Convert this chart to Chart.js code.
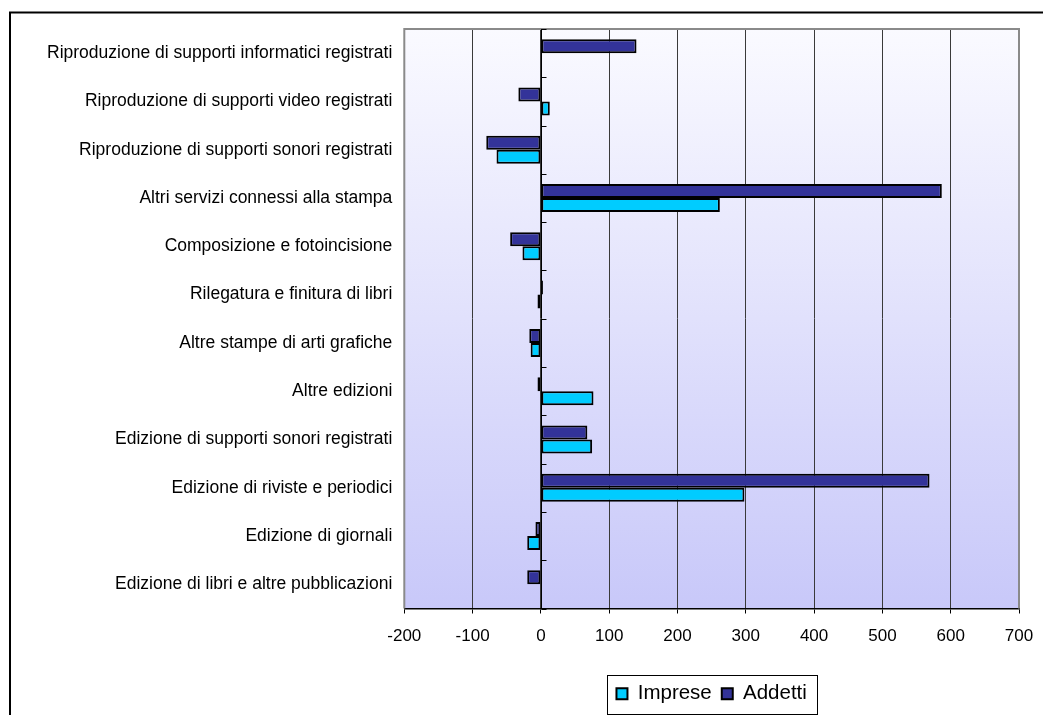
<!DOCTYPE html>
<html>
<head>
<meta charset="utf-8">
<script src="https://cdn.jsdelivr.net/npm/chart.js@4/dist/chart.umd.min.js"></script>
<style>
  html, body { margin: 0; padding: 0; background: #fff; }
  canvas { display: block; }
</style>
</head>
<body>
<canvas id="c" width="1043" height="715"></canvas>
<script>
// Categories, top to bottom
const categories = [
  "Riproduzione di supporti informatici registrati",
  "Riproduzione di supporti video registrati",
  "Riproduzione di supporti sonori registrati",
  "Altri servizi connessi alla stampa",
  "Composizione e fotoincisione",
  "Rilegatura e finitura di libri",
  "Altre stampe di arti grafiche",
  "Altre edizioni",
  "Edizione di supporti sonori registrati",
  "Edizione di riviste e periodici",
  "Edizione di giornali",
  "Edizione di libri e altre pubblicazioni"
];
const imprese = [0, 13, -65, 262, -27, -5, -15, 77, 75, 298, -20, 0];
const addetti = [140, -33, -80, 587, -45, 3, -17, -5, 68, 569, -8, -20];
const axisMin = -200;
const axisMax = 700;
const axisStep = 100;

const FONT = "'Liberation Sans', Arial, sans-serif";

// Plot background, outer frame, zero axis and legend box
const decor = {
  id: 'decor',
  beforeDraw(chart) {
    const {ctx, chartArea: a} = chart;
    ctx.save();
    ctx.fillStyle = '#fff';
    ctx.fillRect(0, 0, chart.width, chart.height);
    ctx.strokeStyle = '#000';
    ctx.lineWidth = 2;
    ctx.strokeRect(10, 12.5, chart.width + 20, chart.height + 20);
    const g = ctx.createLinearGradient(0, a.top, 0, a.bottom);
    g.addColorStop(0, '#fafaff');
    g.addColorStop(1, '#c8c8f9');
    ctx.fillStyle = g;
    ctx.fillRect(a.left, a.top, a.right - a.left, a.bottom - a.top);
    ctx.restore();
  },
  beforeDatasetsDraw(chart) {
    const {ctx, chartArea: a, scales: {x, y}} = chart;
    ctx.save();
    // plot frame
    ctx.strokeStyle = '#8a8a8a';
    ctx.lineWidth = 2;
    ctx.beginPath();
    ctx.moveTo(a.left, a.bottom);
    ctx.lineTo(a.left, a.top);
    ctx.lineTo(a.right, a.top);
    ctx.lineTo(a.right, a.bottom);
    ctx.stroke();
    // category axis crossing at zero, with tick marks between categories
    const x0 = Math.round(x.getPixelForValue(0)) + 0.5;
    ctx.strokeStyle = '#000';
    ctx.lineWidth = 1;
    ctx.beginPath();
    ctx.moveTo(x0, a.top);
    ctx.lineTo(x0, a.bottom);
    for (let i = 0; i <= categories.length; i++) {
      const yy = Math.round(y.getPixelForValue(i - 0.5)) + 0.5;
      ctx.moveTo(x0, yy);
      ctx.lineTo(x0 + 5, yy);
    }
    ctx.stroke();
    ctx.restore();
  },
  afterDraw(chart) {
    const lg = chart.legend;
    if (!lg || !lg.legendHitBoxes || !lg.legendHitBoxes.length) return;
    const hb = lg.legendHitBoxes;
    let l = Infinity, r = -Infinity, t = Infinity, b = -Infinity;
    hb.forEach(h => {
      l = Math.min(l, h.left); r = Math.max(r, h.left + h.width);
      t = Math.min(t, h.top); b = Math.max(b, h.top + h.height);
    });
    const ctx = chart.ctx;
    ctx.save();
    ctx.strokeStyle = '#000';
    ctx.lineWidth = 1;
    ctx.strokeRect(Math.round(l - 9) + 0.5, Math.round(t - 9) + 0.5,
                   Math.round(r - l + 20), Math.round(b - t + 18));
    ctx.restore();
  }
};

new Chart(document.getElementById('c'), {
  type: 'bar',
  data: {
    labels: categories,
    datasets: [
      {
        label: 'Addetti',
        data: addetti,
        backgroundColor: '#333399',
        borderColor: '#000',
        borderWidth: 2,
        borderSkipped: false
      },
      {
        label: 'Imprese',
        data: imprese,
        backgroundColor: '#00ccff',
        borderColor: '#000',
        borderWidth: 2,
        borderSkipped: false
      }
    ]
  },
  options: {
    indexAxis: 'y',
    responsive: false,
    animation: false,
    layout: { padding: { left: 10, top: 29, right: 24, bottom: 1 } },
    datasets: { bar: { categoryPercentage: 0.58, barPercentage: 1.0 } },
    scales: {
      x: {
        min: axisMin,
        max: axisMax,
        afterFit(s) { s.height = 65; },
        ticks: {
          stepSize: axisStep,
          color: '#000',
          padding: 9,
          font: { family: FONT, size: 17, lineHeight: 1.6 }
        },
        grid: {
          color: '#3a3a3a',
          lineWidth: 1,
          drawTicks: true,
          tickLength: 5,
          tickColor: '#000'
        },
        border: { display: true, color: '#000', width: 1.5 }
      },
      y: {
        afterFit(s) { s.width = 394.3; },
        ticks: {
          color: '#000',
          padding: 12,
          autoSkip: false,
          font: { family: FONT, size: 17.5 }
        },
        grid: { display: false, drawTicks: false },
        border: { display: false }
      }
    },
    plugins: {
      legend: {
        position: 'bottom',
        fullSize: false,
        reverse: true,
        labels: {
          color: '#000',
          boxWidth: 11,
          boxHeight: 11,
          padding: 10,
          font: { family: FONT, size: 20.5 }
        }
      },
      tooltip: { enabled: false }
    }
  },
  plugins: [decor]
});
</script>
</body>
</html>
